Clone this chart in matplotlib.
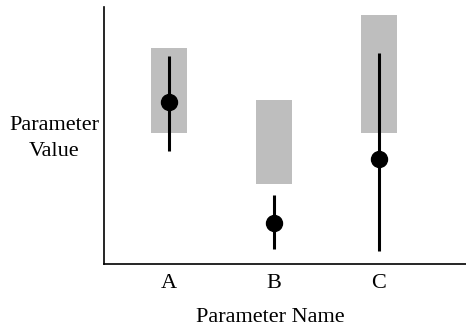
import matplotlib
matplotlib.use("Agg")
import matplotlib.pyplot as plt
from matplotlib.patches import Rectangle

categories = ["A", "B", "C"]
box_low = [5.1, 3.1, 5.1]
box_high = [8.4, 6.4, 9.7]
line_low = [4.4, 0.6, 0.5]
line_high = [8.1, 2.7, 8.2]
estimate = [6.3, 1.6, 4.1]

plt.rcParams["font.family"] = ["Liberation Serif", "DejaVu Serif"]

fig = plt.figure(figsize=(4.66, 3.26), dpi=100)
ax = fig.add_axes([104 / 466, 62 / 326, 362 / 466, 257 / 326])

xs = list(range(len(categories)))
box_w = 0.343
for x, lo, hi in zip(xs, box_low, box_high):
    ax.add_patch(Rectangle((x - box_w / 2, lo), box_w, hi - lo,
                           facecolor="#bebebe", edgecolor="none", zorder=1))
ax.vlines(xs, line_low, line_high, color="black", linewidth=2.2, zorder=2)
ax.plot(xs, estimate, "o", color="black", markersize=11.5, zorder=3)

ax.set_xlim(-0.619, 2.829)
ax.set_ylim(0, 10)
ax.spines["top"].set_visible(False)
ax.spines["right"].set_visible(False)
for s in ("left", "bottom"):
    ax.spines[s].set_linewidth(1.2)
ax.set_yticks([])
ax.set_xticks(xs)
ax.set_xticklabels(categories, fontsize=16)
ax.tick_params(axis="x", length=0, pad=7)
ax.set_xlabel("Parameter Name", fontsize=16, labelpad=11)
ax.xaxis.label.set_x(0.459)
fig.text(54 / 466, 1 - 125.5 / 326, "Parameter", ha="center", va="center", fontsize=16)
fig.text(54 / 466, 1 - 151 / 326, "Value", ha="center", va="center", fontsize=16)

fig.savefig("out.png", dpi=100)
